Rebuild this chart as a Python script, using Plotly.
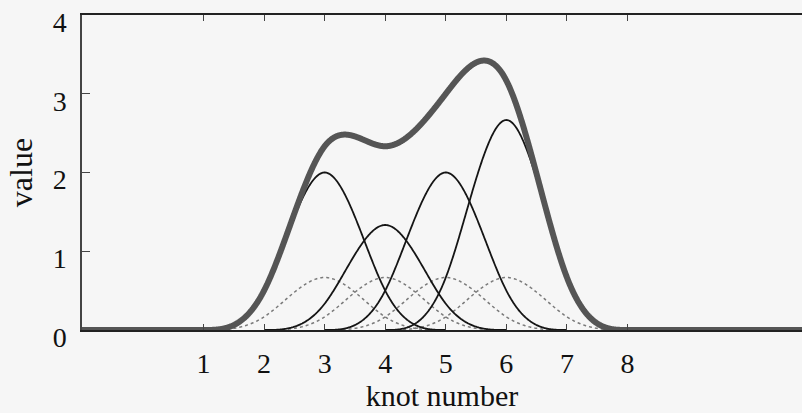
import numpy as np
import plotly.graph_objects as go

# data
knot_centers = [3, 4, 5, 6]          # centres of the basis functions
weights = [3, 2, 3, 4]               # coefficients of each basis function
x_ticks = [1, 2, 3, 4, 5, 6, 7, 8]
y_ticks = [0, 1, 2, 3, 4]

def bspline3(t):
    """uniform cubic B-spline basis centred at 0 (support [-2, 2])"""
    a = np.abs(t)
    out = np.zeros_like(a)
    m1 = a < 1
    m2 = (a >= 1) & (a < 2)
    out[m1] = 2/3 - a[m1]**2 + a[m1]**3 / 2
    out[m2] = (2 - a[m2])**3 / 6
    return out

x = np.linspace(-1.1, 11, 2422)
fig = go.Figure()

# dotted unit basis functions
for c in knot_centers:
    xs = np.linspace(c - 2, c + 2, 401)
    fig.add_trace(go.Scatter(x=xs, y=bspline3(xs - c), mode="lines",
                             line=dict(color="#7a7a7a", width=1.5, dash="dot", simplify=False),
                             hoverinfo="skip", showlegend=False))
# weighted basis functions
for c, w in zip(knot_centers, weights):
    xs = np.linspace(c - 2, c + 2, 401)
    fig.add_trace(go.Scatter(x=xs, y=w * bspline3(xs - c), mode="lines",
                             line=dict(color="#151515", width=1.8, simplify=False),
                             hoverinfo="skip", showlegend=False))
# sum
total = sum(w * bspline3(x - c) for c, w in zip(knot_centers, weights))
fig.add_trace(go.Scatter(x=x, y=total, mode="lines",
                         line=dict(color="#555555", width=6, simplify=False),
                         cliponaxis=False, hoverinfo="skip", showlegend=False))

font_family = "Liberation Serif, serif"
fig.update_layout(
    width=802, height=413,
    margin=dict(l=82, r=0, t=15, b=83),
    paper_bgcolor="#f6f6f6", plot_bgcolor="#f6f6f6",
    font=dict(family=font_family, size=28, color="#111"),
    xaxis=dict(range=[-1.005, 10.88], tickvals=x_ticks, ticks="inside",
               ticklen=6, tickwidth=1, tickcolor="#444",
               showline=True, linecolor="#222", linewidth=1.5, mirror="allticks",
               showgrid=False, zeroline=False, ticklabelstandoff=8,
               title=dict(text="knot number", standoff=4, font=dict(size=30))),
    yaxis=dict(range=[0, 4], tickvals=y_ticks, ticks="inside",
               ticklen=8, tickwidth=1, tickcolor="#444",
               showline=True, linecolor="#444", linewidth=1.5, mirror=False,
               showgrid=False, zeroline=False, ticklabelstandoff=8,
               ticklabelshift=7,
               title=dict(text="value", standoff=10, font=dict(size=32))),
)
fig.write_html("out.html")
